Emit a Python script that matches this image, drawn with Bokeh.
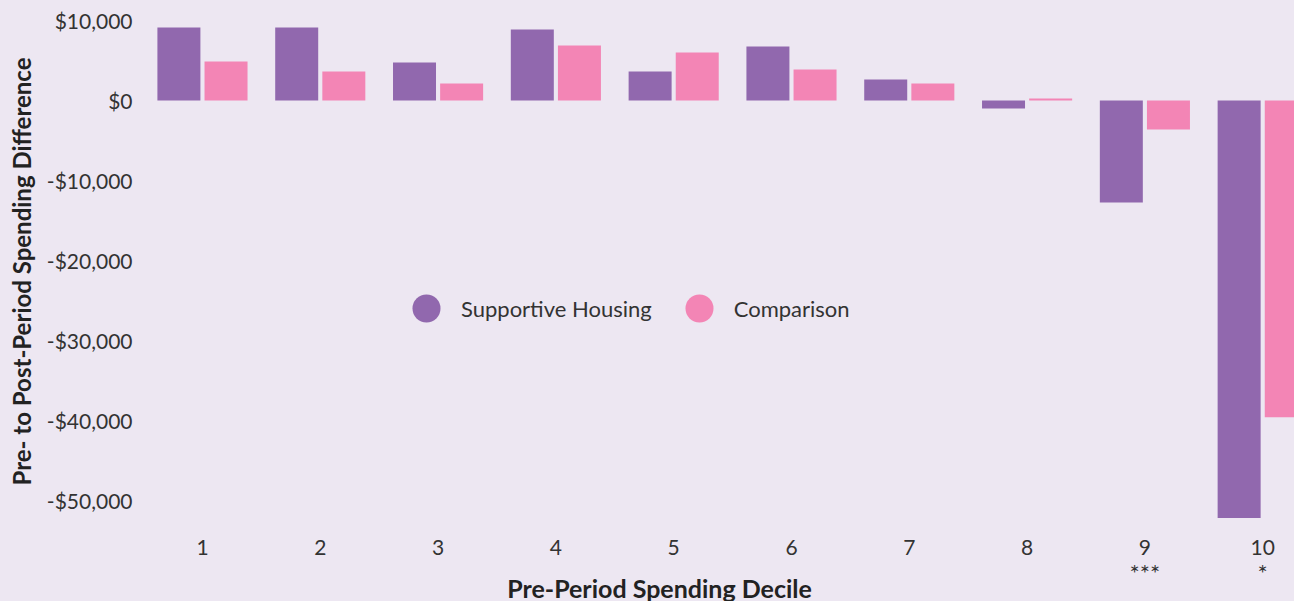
from bokeh.plotting import figure
from bokeh.models import (ColumnDataSource, Legend, LegendItem, Title, FixedTicker,
                          Range1d, Label)
from bokeh.core.properties import value
from bokeh.transform import dodge
from bokeh.embed import file_html
from bokeh.resources import INLINE

# ---- data ----
deciles = [1, 2, 3, 4, 5, 6, 7, 8, 9, 10]
decile_labels = ["1", "2", "3", "4", "5", "6", "7", "8", "9", "10"]
supportive_housing = [9125, 9125, 4750, 8875, 3625, 6750, 2625, -1000, -12750, -52200]
comparison = [4875, 3625, 2125, 6875, 6000, 3875, 2125, 250, -3625, -39600]
significance = ["", "", "", "", "", "", "", "", "***", "*"]
y_ticks = [-50000, -40000, -30000, -20000, -10000, 0, 10000]
y_tick_labels = ["-$50,000", "-$40,000", "-$30,000", "-$20,000", "-$10,000", "$0", "$10,000"]

PURPLE = "#9168AE"
PINK = "#F385B5"
BG = "#EDE7F2"
TXT = "#333333"
TITLE_C = "#222222"
FONT = "Lato"

src = ColumnDataSource(dict(x=deciles, sh=supportive_housing, comp=comparison,
                            lab=decile_labels, sig=significance))

p = figure(width=1294, height=601, output_backend="svg", toolbar_location=None,
           x_range=Range1d(0.457, 10.27), y_range=Range1d(-62625, 12500),
           min_border_left=0, min_border_right=0, min_border_top=0, min_border_bottom=0)
p.background_fill_color = None
p.border_fill_color = None
p.styles = {"background-color": BG}
p.outline_line_color = None
p.grid.visible = False

p.vbar(x=dodge("x", -0.2), top="sh", bottom=0, width=0.365, source=src,
       fill_color=PURPLE, line_color=None)
p.vbar(x=dodge("x", 0.2), top="comp", bottom=0, width=0.365, source=src,
       fill_color=PINK, line_color=None)

# y axis
yax = p.yaxis[0]
yax.ticker = FixedTicker(ticks=y_ticks)
yax.major_label_overrides = {t: l for t, l in zip(y_ticks, y_tick_labels)}
yax.axis_line_color = None
yax.major_tick_line_color = None
yax.minor_tick_line_color = None
yax.major_tick_out = 0
yax.major_tick_in = 0
yax.major_label_text_font = FONT
yax.major_label_text_font_size = "21px"
yax.major_label_text_color = TXT
yax.major_label_standoff = 6

ytitle = Title(text="Pre- to Post-Period Spending Difference", align="left", offset=116,
               vertical_align="top", standoff=12,
               text_font=FONT, text_font_style="bold", text_font_size="24px",
               text_color=TITLE_C)
p.add_layout(ytitle, "left")

# x axis: category labels, significance markers and title below the bars
p.xaxis.visible = False
p.text(x="x", y=-55875, text="lab", source=src, text_align="center", text_baseline="middle",
       text_font=value(FONT), text_font_size="21px", text_color=TXT)
p.text(x="x", y=-59050, text="sig", source=src, text_align="center", text_baseline="middle",
       text_font=value(FONT), text_font_size="24px", text_color=TXT)
p.add_layout(Label(x=4.88, y=-60875, text="Pre-Period Spending Decile",
                   text_align="center", text_baseline="middle",
                   text_font=FONT, text_font_style="bold", text_font_size="25px",
                   text_color=TITLE_C))

# legend with circle glyphs (proxy renderers without visible points)
nan = float("nan")
r1 = p.scatter([nan], [nan], marker="circle", fill_color=PURPLE, line_color=None)
r2 = p.scatter([nan], [nan], marker="circle", fill_color=PINK, line_color=None)
legend = Legend(items=[LegendItem(label="Supportive Housing", renderers=[r1]),
                       LegendItem(label="Comparison", renderers=[r2])],
                orientation="horizontal", location=(253, 258),
                glyph_width=70, glyph_height=70, label_standoff=0, spacing=12,
                background_fill_alpha=0, border_line_color=None,
                label_text_font=FONT, label_text_font_size="22px", label_text_color=TXT,
                padding=0, margin=0)
p.add_layout(legend)

open("out.html", "w").write(file_html(p, INLINE))
